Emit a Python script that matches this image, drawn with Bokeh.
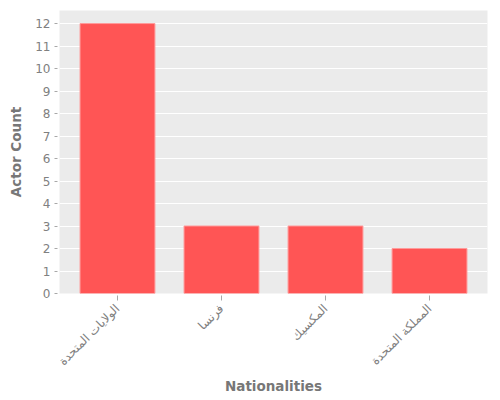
#
# Actor count by nationality, bar chart
#
import math
from bokeh.plotting import figure
from bokeh.models import FactorRange, Range1d, ColumnDataSource, SingleIntervalTicker
from bokeh.embed import file_html
from bokeh.resources import INLINE

# Categories and values
nationalities = ["الولايات المتحدة", "فرنسا", "المكسيك", "المملكة المتحدة"]
actor_counts = [12, 3, 3, 2]

source = ColumnDataSource(data=dict(nat=nationalities, count=actor_counts))

p = figure(x_range=FactorRange(factors=nationalities, range_padding=0.0575, range_padding_units="absolute"),
           y_range=Range1d(0, 12.58),
           width=500, height=400,
           min_border_left=59, min_border_top=10, min_border_right=13, min_border_bottom=107,
           output_backend="svg", toolbar_location=None,
           background_fill_color="#EBEBEB", border_fill_color="white", outline_line_color=None)

# The bars
p.vbar(x="nat", top="count", width=0.72, source=source,
       fill_color="#FF5555", line_color="#FF9A9A", line_width=1)

# Grid: horizontal white lines only
p.xgrid.grid_line_color = None
p.ygrid.grid_line_color = "white"
p.ygrid.grid_line_width = 1

p.yaxis.ticker = SingleIntervalTicker(interval=1)

for ax in [p.xaxis[0], p.yaxis[0]]:
    ax.axis_line_color = None
    ax.minor_tick_line_color = None
    ax.major_tick_line_color = "#A8A8A8"
    ax.major_tick_in = -2
    ax.major_tick_out = 5
    ax.major_label_standoff = 4
    ax.major_label_text_color = "#808080"
    ax.major_label_text_font = "DejaVu Sans"
    ax.major_label_text_font_size = "12px"
    ax.axis_label_text_color = "#777777"
    ax.axis_label_text_font = "DejaVu Sans"
    ax.axis_label_text_font_style = "bold"
    ax.axis_label_text_font_size = "13.5px"

p.xaxis.major_tick_out = 7
p.xaxis.major_label_standoff = 6
p.xaxis.major_label_orientation = math.pi / 4
p.xaxis.axis_label = "Nationalities"
p.yaxis.axis_label = "Actor Count"
p.xaxis.axis_label_standoff = 2
p.yaxis.axis_label_standoff = 8

open("out.html", "w").write(file_html(p, INLINE))
